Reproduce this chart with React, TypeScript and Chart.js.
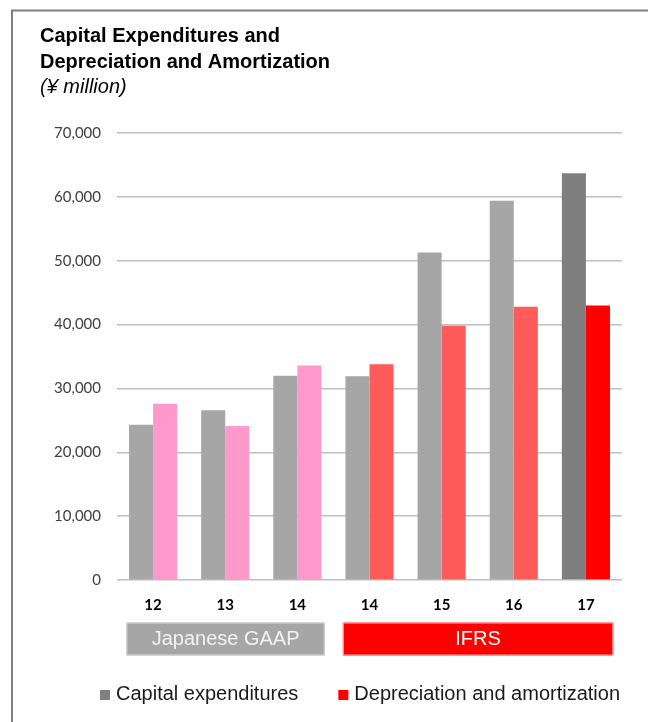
import React, { useEffect, useRef } from "react";
import { Chart, registerables } from "chart.js";

Chart.register(...registerables);

const categories = ["12", "13", "14", "14", "15", "16", "17"];
const capexValues = [24300, 26600, 32000, 31900, 51300, 59400, 63700];
const deprValues = [27600, 24100, 33600, 33800, 39800, 42800, 43000];
const capexColors = ["#A6A6A6", "#A6A6A6", "#A6A6A6", "#A6A6A6", "#A6A6A6", "#A6A6A6", "#7F7F7F"];
const deprColors = ["#FF99CC", "#FF99CC", "#FF99CC", "#FF5B5B", "#FF5B5B", "#FF5B5B", "#FF0000"];
const seriesLabels = ["Capital expenditures", "Depreciation and amortization"];
const legendColors = ["#808080", "#FF0000"];
const bandLabels = ["Japanese GAAP", "IFRS"];
const bandStart = [0, 3];
const bandEnd = [2, 6];
const bandFill = ["#A6A6A6", "#FF0000"];
const bandStroke = ["#D9D9D9", "#FFB3B3"];
const bandText = ["#F2F2F2", "#FFFFFF"];
const yTicksMax = 70000;
const yTicksStep = 10000;

const ARIAL = '"Liberation Sans", Arial, sans-serif';

const decorPlugin = {
  id: "decor",
  beforeDraw(chart: any) {
    const ctx = chart.ctx;
    ctx.save();
    ctx.strokeStyle = "#7F7F7F";
    ctx.lineWidth = 2;
    ctx.beginPath();
    ctx.moveTo(12, 722);
    ctx.lineTo(12, 10.5);
    ctx.lineTo(648, 10.5);
    ctx.stroke();
    ctx.restore();
  },
  afterDraw(chart: any) {
    const ctx = chart.ctx;
    const x = chart.scales.x;
    const catW = (chart.chartArea.right - chart.chartArea.left) / categories.length;
    ctx.save();
    // bands
    for (let i = 0; i < bandLabels.length; i++) {
      const left = x.getPixelForValue(bandStart[i]) - 0.37 * catW;
      const right = x.getPixelForValue(bandEnd[i]) + 0.38 * catW;
      const top = 622.5;
      const h = 33;
      ctx.fillStyle = bandFill[i];
      ctx.fillRect(left, top, right - left, h);
      ctx.strokeStyle = bandStroke[i];
      ctx.lineWidth = 1;
      ctx.strokeRect(left + 0.5, top + 0.5, right - left - 1, h - 1);
      ctx.fillStyle = bandText[i];
      ctx.font = `20px ${ARIAL}`;
      ctx.textAlign = "center";
      ctx.textBaseline = "middle";
      ctx.fillText(bandLabels[i], (left + right) / 2, top + h / 2 + 0.5);
    }
    // legend
    let lx = 100;
    const ly = 694.5;
    ctx.font = `20px ${ARIAL}`;
    ctx.textAlign = "left";
    ctx.textBaseline = "middle";
    for (let i = 0; i < seriesLabels.length; i++) {
      ctx.fillStyle = legendColors[i];
      ctx.fillRect(lx, ly - 4.5, 10, 10);
      ctx.fillStyle = "#1A1A1A";
      const tx = lx + 16;
      ctx.fillText(seriesLabels[i], tx, ly);
      lx = tx + ctx.measureText(seriesLabels[i]).width + 40;
    }
    ctx.restore();
  },
};

export default function App() {
  const ref = useRef<HTMLCanvasElement | null>(null);

  useEffect(() => {
    if (!ref.current) return;
    const chart = new Chart(ref.current, {
      type: "bar",
      data: {
        labels: categories,
        datasets: [
          {
            label: seriesLabels[0],
            data: capexValues,
            backgroundColor: capexColors,
            categoryPercentage: 0.667,
            barPercentage: 1,
          },
          {
            label: seriesLabels[1],
            data: deprValues,
            backgroundColor: deprColors,
            categoryPercentage: 0.667,
            barPercentage: 1,
          },
        ],
      },
      plugins: [decorPlugin],
      options: {
        responsive: false,
        animation: false,
        devicePixelRatio: 1,
        layout: { padding: { left: 40, right: 26, top: 0, bottom: 102 } },
        plugins: {
          legend: { display: false },
          tooltip: { enabled: false },
          title: {
            display: true,
            align: "start",
            text: ["Capital Expenditures and", "Depreciation and Amortization"],
            color: "#000000",
            font: { family: ARIAL, size: 20, weight: "bold", lineHeight: "26px" },
            padding: { top: 23.8, bottom: 0 },
          },
          subtitle: {
            display: true,
            align: "start",
            text: "(¥ million)",
            color: "#000000",
            font: { family: ARIAL, size: 20, style: "italic", lineHeight: "20px" },
            padding: { top: 1.2, bottom: 36 },
          },
        },
        scales: {
          x: {
            grid: { display: false, drawTicks: false },
            border: { display: false },
            ticks: {
              color: "#000000",
              font: { family: "Lato, sans-serif", size: 15, weight: "bold" },
              padding: 16,
            },
            afterFit(scale: any) {
              scale.height = 40;
            },
          },
          y: {
            min: 0,
            max: yTicksMax,
            grid: { color: "#BEBEBE", lineWidth: 1.5, drawTicks: false },
            border: { display: false },
            ticks: {
              stepSize: yTicksStep,
              color: "#404040",
              font: { family: "Lato, sans-serif", size: 15 },
              padding: 16,
              callback: (v: any) => Number(v).toLocaleString("en-US"),
            },
            afterFit(scale: any) {
              scale.width = 77;
            },
          },
        },
      },
    } as any);
    return () => chart.destroy();
  }, []);

  return (
    <div style={{ position: "absolute", left: 0, top: 0, width: 648, height: 722, background: "#fff" }}>
      <canvas ref={ref} width={648} height={722} style={{ display: "block", width: 648, height: 722 }} />
    </div>
  );
}
